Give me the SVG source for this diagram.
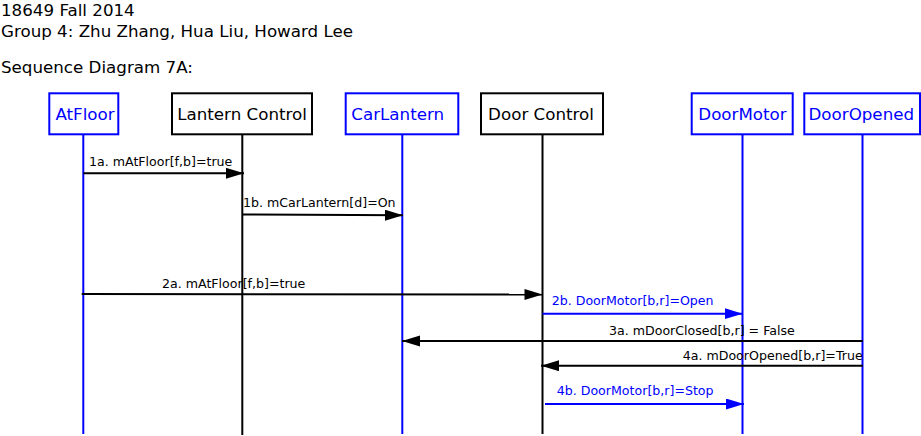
<svg xmlns="http://www.w3.org/2000/svg" width="921" height="436" viewBox="0 0 921 436">
<style>
text{font-family:"DejaVu Sans",Verdana,sans-serif}
.title{font-size:16.7px;fill:#000}
.nl{font-size:16.7px;text-anchor:middle}
.ml{font-size:12.6px}
.bbox{fill:#fff;stroke:#000;stroke-width:2}
.ubox{fill:#fff;stroke:#00f;stroke-width:2}
.blife{stroke:#000;stroke-width:2}
.ulife{stroke:#00f;stroke-width:2}
.bm{stroke:#000;stroke-width:2;fill:none;marker-end:url(#ab)}
.um{stroke:#00f;stroke-width:2;fill:none;marker-end:url(#au)}
.bt{fill:#000}
.ut{fill:#00f}
</style>
<defs>
<marker id="ab" markerUnits="userSpaceOnUse" markerWidth="19" markerHeight="12" refX="18" refY="5.5" orient="auto"><path d="M0,0 L18,5.5 L0,11 z" fill="#000"/></marker>
<marker id="au" markerUnits="userSpaceOnUse" markerWidth="19" markerHeight="12" refX="18" refY="5.5" orient="auto"><path d="M0,0 L18,5.5 L0,11 z" fill="#00f"/></marker>
</defs>
<rect width="921" height="436" fill="#fff"/>
<g id="header">
<text class="title" x="1" y="16">18649 Fall 2014</text>
<text class="title" x="1" y="36.5">Group 4: Zhu Zhang, Hua Liu, Howard Lee</text>
<text class="title" x="1" y="73.3">Sequence Diagram 7A:</text>
</g>
<g id="node-atfloor">
<line class="ulife" x1="83.3" y1="134" x2="83.3" y2="434"/>
<rect class="ubox" x="49.3" y="93.3" width="69" height="41"/>
<text class="nl ut" x="85" y="120">AtFloor</text>
</g>
<g id="node-lantern-control">
<line class="blife" x1="242.3" y1="134" x2="242.3" y2="435"/>
<rect class="bbox" x="172" y="93.3" width="140" height="41"/>
<text class="nl bt" x="242" y="120">Lantern Control</text>
</g>
<g id="node-carlantern">
<line class="ulife" x1="402.3" y1="134" x2="402.3" y2="434"/>
<rect class="ubox" x="345.7" y="93.3" width="112.6" height="41"/>
<text class="nl ut" x="397.7" y="120">CarLantern</text>
</g>
<g id="node-door-control">
<line class="blife" x1="542.5" y1="134" x2="542.5" y2="434"/>
<rect class="bbox" x="481" y="93.3" width="122" height="41"/>
<text class="nl bt" x="541" y="120">Door Control</text>
</g>
<g id="node-doormotor">
<line class="ulife" x1="742.5" y1="134" x2="742.5" y2="434"/>
<rect class="ubox" x="691.7" y="93.3" width="101" height="41"/>
<text class="nl ut" x="742.5" y="120">DoorMotor</text>
</g>
<g id="node-dooropened">
<line class="ulife" x1="862.5" y1="134" x2="862.5" y2="434"/>
<rect class="ubox" x="804.3" y="93.3" width="115.7" height="41"/>
<text class="nl ut" x="861.3" y="120">DoorOpened</text>
</g>
<g id="connectors">
<line class="bm" x1="83.3" y1="173.3" x2="244" y2="173.3"/>
<text class="ml bt" x="89" y="166">1a. mAtFloor[f,b]=true</text>
<line class="bm" x1="242.3" y1="214.5" x2="403" y2="215.3"/>
<text class="ml bt" x="243" y="206.7">1b. mCarLantern[d]=On</text>
<line class="bm" x1="81.7" y1="294" x2="542.5" y2="294.5"/>
<text class="ml bt" x="162" y="287.7">2a. mAtFloor[f,b]=true</text>
<line class="um" x1="542.5" y1="313.7" x2="742.7" y2="313.7"/>
<text class="ml ut" x="551.7" y="305">2b. DoorMotor[b,r]=Open</text>
<line class="bm" x1="862.7" y1="341" x2="402" y2="341"/>
<text class="ml bt" x="609" y="335">3a. mDoorClosed[b,r] = False</text>
<line class="bm" x1="862.7" y1="365.7" x2="541" y2="365.7"/>
<text class="ml bt" x="682.7" y="359.5">4a. mDoorOpened[b,r]=True</text>
<line class="um" x1="545" y1="404" x2="744" y2="404"/>
<text class="ml ut" x="556.7" y="395">4b. DoorMotor[b,r]=Stop</text>
</g>
</svg>
